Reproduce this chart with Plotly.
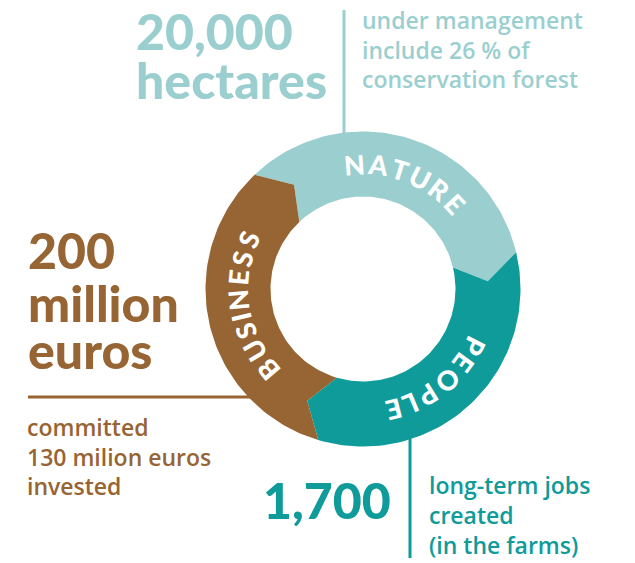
import math
import plotly.graph_objects as go

# ---------------- data ----------------
segments = ["NATURE", "PEOPLE", "BUSINESS"]
segment_values = [1, 1, 1]
segment_colors = ["#9BCFCF", "#0E9B9A", "#976433"]

nature_head = ["20,000", "hectares"]
nature_text = ["under management", "include 26 % of", "conservation forest"]
business_head = ["200", "million", "euros"]
business_text = ["committed", "130 milion euros", "invested"]
people_head = ["1,700"]
people_text = ["long-term jobs", "created", "(in the farms)"]

# ---------------- layout constants ----------------
W, H = 635, 563
CX, CY = 363, 289
R_OUT, R_IN = 157.5, 92.5
R_MID = (R_OUT + R_IN) / 2
START = -43.5      # degrees clockwise from 12 o'clock
TIP = 10           # chevron depth in degrees
BIG_FONT = "Lato"
SMALL_FONT = "Open Sans"


def pt(theta, r):
    t = math.radians(theta)
    return CX + r * math.sin(t), CY - r * math.cos(t)


fig = go.Figure()

total = sum(segment_values)
cum = 0
seg_angles = []
for name, v, col in zip(segments, segment_values, segment_colors):
    a = START + 360 * cum / total
    b = a + 360 * v / total
    cum += v
    seg_angles.append((a, b))
    xs, ys = [], []
    n = 80
    for k in range(n + 1):
        x, y = pt(a + (b - a) * k / n, R_OUT)
        xs.append(x); ys.append(y)
    x, y = pt(b + TIP, R_MID); xs.append(x); ys.append(y)
    for k in range(n + 1):
        x, y = pt(b - (b - a) * k / n, R_IN)
        xs.append(x); ys.append(y)
    x, y = pt(a + TIP, R_MID); xs.append(x); ys.append(y)
    xs.append(xs[0]); ys.append(ys[0])
    fig.add_trace(go.Scatter(x=xs, y=ys, fill="toself", fillcolor=col,
                             line=dict(width=0, color=col), mode="lines",
                             hoverinfo="text", text=name, showlegend=False))

# curved ring labels
char_w = {"N": .74, "A": .72, "T": .60, "U": .72, "R": .66, "E": .60,
          "P": .64, "O": .80, "L": .55, "B": .68, "S": .60, "I": .30}
DEG_PER_EM = 15.2
annotations = []
for name, (a, b) in zip(segments, seg_angles):
    mid = (a + b) / 2 + TIP / 2
    widths = [char_w.get(c, .6) for c in name]
    span = sum(widths) - widths[0] / 2 - widths[-1] / 2
    pos = mid - span * DEG_PER_EM / 2
    for i, ch in enumerate(name):
        if i > 0:
            pos += (widths[i - 1] + widths[i]) / 2 * DEG_PER_EM
        x, y = pt(pos, R_MID)
        ang = pos % 360
        if ang > 180:
            ang -= 360
        annotations.append(dict(x=x, y=y, xref="x", yref="y", text=ch,
                                showarrow=False, textangle=ang,
                                xanchor="center", yanchor="middle",
                                font=dict(family=BIG_FONT, size=27, color="white", weight=900)))


def line_ann(text, x, baseline, size, color, weight, family):
    annotations.append(dict(x=x, y=baseline - 0.35 * size, xref="x", yref="y",
                            text=text, showarrow=False, xanchor="left", yanchor="middle",
                            borderpad=0,
                            font=dict(family=family, size=size, color=color, weight=weight)))


NAT, PEO, BUS = segment_colors
BIG = 50
SMALL = 23
for t, bl in zip(nature_head, [48, 97]):
    line_ann(t, 135, bl, BIG, NAT, 900, BIG_FONT)
for t, bl in zip(nature_text, [28, 58, 87]):
    line_ann(t, 361, bl, SMALL, NAT, 600, SMALL_FONT)
for t, bl in zip(business_head, [267, 320, 367]):
    line_ann(t, 27, bl, BIG, BUS, 900, BIG_FONT)
for t, bl in zip(business_text, [435, 465, 494]):
    line_ann(t, 26, bl, SMALL, BUS, 600, SMALL_FONT)
for t, bl in zip(people_head, [517]):
    line_ann(t, 262, bl, BIG, PEO, 900, BIG_FONT)
for t, bl in zip(people_text, [493, 523, 553]):
    line_ann(t, 428, bl, SMALL, PEO, 600, SMALL_FONT)

shapes = [
    dict(type="line", x0=344, x1=344, y0=10, y1=150, xref="x", yref="y",
         line=dict(color=NAT, width=3), layer="below"),
    dict(type="line", x0=28, x1=260, y0=397, y1=397, xref="x", yref="y",
         line=dict(color=BUS, width=3), layer="below"),
    dict(type="line", x0=410, x1=410, y0=430, y1=558, xref="x", yref="y",
         line=dict(color=PEO, width=3), layer="below"),
]

# axis units equal screen pixels
fig.update_layout(
    width=W, height=H, margin=dict(l=0, r=0, t=0, b=0),
    paper_bgcolor="white", plot_bgcolor="white",
    xaxis=dict(range=[0, W], visible=False, fixedrange=True),
    yaxis=dict(range=[H, 0], visible=False, fixedrange=True),
    annotations=annotations, shapes=shapes, showlegend=False,
)

fig.write_html("out.html", config={"displayModeBar": False},
               post_script="document.body.style.margin='0';document.body.style.overflow='hidden';")
